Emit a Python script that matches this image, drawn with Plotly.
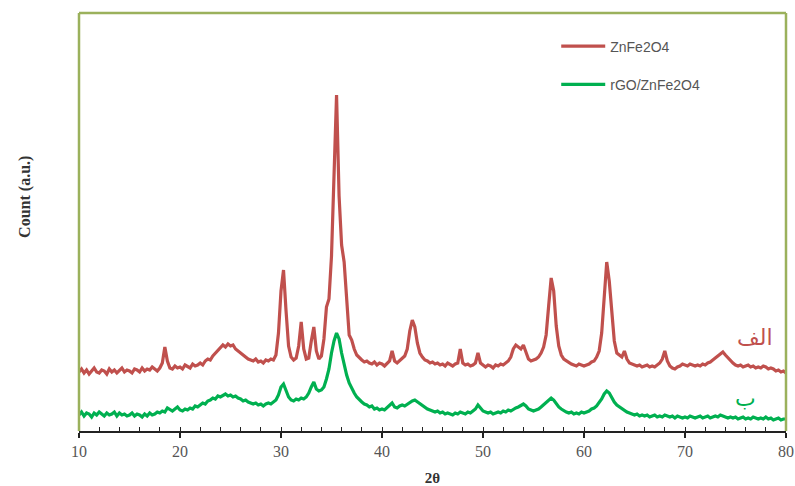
import plotly.graph_objects as go

# 2-theta grid (0.25 deg step, 10..80)
two_theta = [10 + 0.25 * i for i in range(281)]

# ZnFe2O4 intensities (a.u.)
znfe2o4 = [
    59, 62, 58, 61, 57, 60, 63, 59, 58, 61, 60, 57, 62, 59, 61, 58, 60, 63, 59, 61,
    60, 58, 62, 61, 59, 63, 60, 62, 61, 64, 62, 60, 63, 68, 84, 70, 63, 62, 65, 63,
    64, 62, 66, 64, 63, 67, 65, 66, 68, 66, 70, 72, 71, 75, 78, 80, 83, 86, 84, 87,
    85, 86, 82, 80, 78, 75, 74, 72, 71, 70, 72, 69, 70, 68, 71, 70, 72, 71, 76, 98,
    140, 161, 120, 85, 74, 71, 73, 85, 109, 82, 72, 73, 90, 104, 80, 72, 75, 92, 124, 132,
    175, 255, 336, 235, 186, 169, 128, 96, 91, 82, 76, 73, 71, 69, 70, 68, 67, 69, 66, 68,
    67, 65, 68, 70, 80, 70, 68, 70, 72, 75, 82, 100, 111, 104, 88, 78, 74, 71, 70, 68,
    69, 67, 68, 66, 67, 65, 68, 66, 65, 67, 68, 82, 68, 66, 67, 65, 66, 68, 78, 68,
    66, 64, 66, 65, 63, 66, 65, 67, 66, 68, 70, 74, 82, 86, 84, 82, 86, 78, 72, 70,
    71, 72, 74, 78, 84, 96, 125, 153, 140, 105, 85, 76, 72, 70, 68, 67, 66, 65, 67, 66,
    65, 66, 67, 69, 70, 74, 80, 98, 135, 169, 150, 118, 90, 78, 76, 74, 80, 72, 68, 67,
    66, 65, 66, 64, 65, 66, 64, 65, 64, 66, 68, 72, 80, 70, 65, 63, 62, 64, 65, 67,
    66, 65, 67, 66, 65, 66, 65, 67, 66, 68, 69, 71, 73, 76, 78, 79, 76, 73, 70, 68,
    66, 65, 66, 64, 65, 66, 64, 65, 63, 64, 63, 65, 64, 62, 63, 62, 60, 61, 59, 60,
    58,
]

# rGO/ZnFe2O4 intensities (a.u.)
rgo_znfe2o4 = [
    16, 19, 15, 18, 17, 14, 18, 16, 19, 17, 15, 18, 16, 17, 19, 15, 18, 16, 17, 15,
    16, 18, 15, 17, 16, 14, 17, 15, 18, 16, 17, 19, 18, 20, 19, 23, 21, 20, 22, 24,
    21, 20, 22, 21, 23, 22, 25, 24, 26, 28, 27, 30, 31, 33, 32, 35, 34, 36, 37, 35,
    36, 34, 35, 33, 32, 30, 31, 29, 28, 27, 28, 26, 27, 25, 27, 28, 27, 29, 31, 36,
    44, 47, 40, 34, 31, 30, 32, 31, 33, 32, 34, 38, 44, 49, 42, 40, 41, 44, 52, 62,
    78, 90, 98, 92, 78, 66, 56, 48, 42, 38, 34, 31, 29, 27, 26, 24, 25, 22, 23, 21,
    22, 21, 23, 25, 28, 24, 23, 25, 26, 25, 27, 29, 30, 31, 29, 27, 26, 24, 22, 21,
    20, 19, 20, 18, 19, 17, 18, 17, 16, 18, 17, 19, 18, 17, 19, 18, 20, 22, 26, 23,
    20, 19, 18, 19, 17, 18, 19, 18, 20, 19, 21, 20, 22, 23, 24, 26, 27, 25, 22, 21,
    20, 21, 22, 24, 26, 28, 31, 33, 31, 27, 24, 22, 20, 19, 18, 19, 17, 18, 17, 19,
    18, 19, 20, 22, 23, 25, 28, 32, 37, 40, 38, 33, 29, 26, 24, 22, 21, 19, 18, 17,
    16, 17, 15, 16, 15, 16, 14, 15, 16, 14, 15, 14, 16, 15, 14, 15, 13, 15, 14, 13,
    14, 13, 15, 14, 13, 14, 15, 13, 14, 15, 13, 14, 15, 14, 16, 15, 14, 13, 14, 13,
    14, 12, 13, 14, 12, 13, 12, 14, 13, 12, 13, 12, 14, 12, 13, 11, 12, 13, 11, 12,
    12,
]

x_ticks = [10, 20, 30, 40, 50, 60, 70, 80]

RED = "#C0504D"
GREEN = "#00B050"
FRAME = "#9BB15C"

fig = go.Figure()
fig.add_trace(go.Scatter(x=two_theta, y=znfe2o4, mode="lines", name="ZnFe2O4",
                         legendgroup="a", line=dict(color=RED, width=3.2)))
fig.add_trace(go.Scatter(x=two_theta, y=rgo_znfe2o4, mode="lines", name="rGO/ZnFe2O4",
                         legendgroup="b", line=dict(color=GREEN, width=3.2)))

fig.update_layout(
    width=795, height=486,
    margin=dict(l=79, r=9, t=13, b=55, autoexpand=False),
    paper_bgcolor="white", plot_bgcolor="white",
    showlegend=True,
    legend=dict(x=0.675, y=0.958, xanchor="left", yanchor="top",
                bgcolor="rgba(0,0,0,0)", tracegroupgap=17,
                font=dict(family="Liberation Sans", size=14, color="#555555"),
                itemwidth=44),
    xaxis=dict(range=[10, 80], tickvals=x_ticks, ticktext=[str(v) for v in x_ticks],
               automargin=False,
               showgrid=False, zeroline=False, showline=True, linecolor="#222222",
               linewidth=1.5, ticks="outside", ticklen=5, tickwidth=1.5, tickcolor="#222222",
               minor=dict(dtick=2, ticks="inside", ticklen=4, tickwidth=1, tickcolor="#222222"),
               tickfont=dict(family="Liberation Serif", size=16, color="#555555"),
               title=dict(text="<b>2θ</b>", font=dict(family="Liberation Serif", size=15, color="#333333"),
                          standoff=14)),
    yaxis=dict(range=[0, 418], automargin=False, showgrid=False, zeroline=False, showline=False,
               showticklabels=False, ticks=""),
    shapes=[
        dict(type="line", xref="paper", yref="paper", x0=0, x1=0, y0=0, y1=1,
             line=dict(color=FRAME, width=2.5)),
        dict(type="line", xref="paper", yref="paper", x0=0, x1=1, y0=1, y1=1,
             line=dict(color=FRAME, width=2.5)),
        dict(type="line", xref="paper", yref="paper", x0=1, x1=1, y0=0, y1=1,
             line=dict(color=FRAME, width=2.5)),
    ],
    annotations=[
        dict(text="<b>Count (a.u.)</b>", xref="paper", yref="paper",
             x=-0.092, y=0.56, textangle=-90, showarrow=False,
             font=dict(family="Liberation Serif", size=16, color="#333333")),
        dict(text="الف", x=76.9, y=94, showarrow=False,
             font=dict(family="DejaVu Sans", size=22, color=RED)),
        dict(text="ب", x=76.0, y=33, showarrow=False,
             font=dict(family="DejaVu Sans", size=22, color=GREEN)),
    ],
)

fig.write_html("out.html")
